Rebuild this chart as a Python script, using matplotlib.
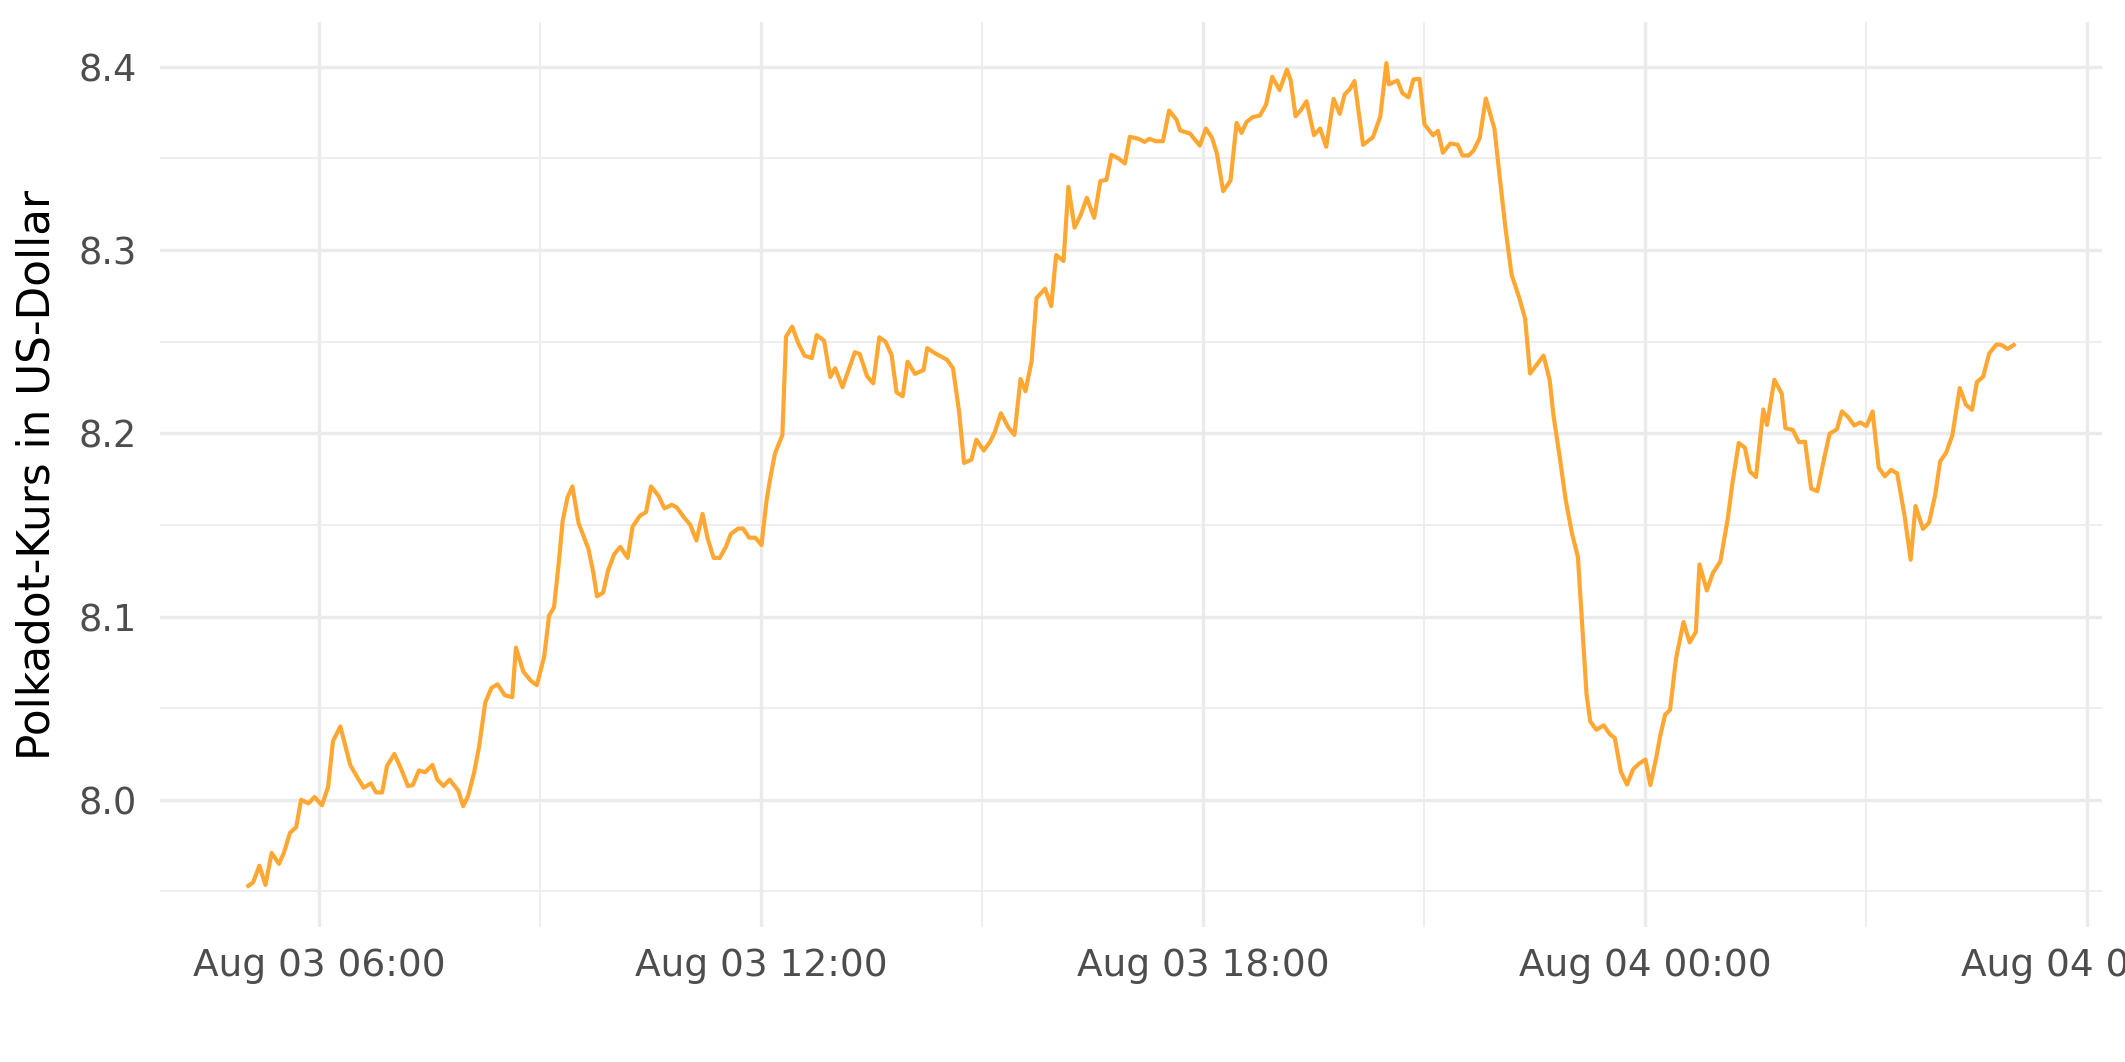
import pandas as pd
import matplotlib
matplotlib.use("Agg")
import matplotlib.pyplot as plt
import matplotlib.dates as mdates
from matplotlib.ticker import MultipleLocator

# minutes after 2022-08-03 00:00
minutes = [
    302, 306, 311, 316, 321, 327, 331, 336, 341, 345, 351, 356, 362, 367, 371, 377,
    381, 385, 391, 396, 402, 406, 411, 415, 421, 427, 432, 436, 441, 446, 452, 456,
    461, 466, 473, 477, 481, 486, 490, 495, 500, 505, 511, 517, 520, 526, 532, 537,
    543, 547, 551, 555, 558, 562, 566, 571, 575, 579, 583, 586, 591, 595, 600, 605,
    611, 615, 621, 626, 630, 636, 641, 647, 651, 657, 662, 667, 672, 676, 681, 686,
    691, 695, 701, 705, 710, 715, 720, 724, 727, 731, 737, 740, 745, 750, 755, 761,
    765, 771, 776, 780, 786, 791, 796, 800, 806, 811, 816, 821, 826, 830, 835, 839,
    845, 852, 855, 861, 871, 876, 881, 885, 891, 895, 901, 906, 910, 915, 921, 926,
    931, 935, 940, 944, 951, 956, 960, 966, 970, 975, 980, 985, 991, 996, 1001, 1005,
    1011, 1016, 1020, 1027, 1032, 1036, 1041, 1047, 1052, 1058, 1061, 1069, 1077, 1082, 1087, 1091,
    1096, 1102, 1107, 1111, 1115, 1120, 1126, 1131, 1136, 1142, 1148, 1151, 1155, 1159, 1164, 1170,
    1175, 1180, 1186, 1191, 1195, 1199, 1203, 1210, 1218, 1224, 1229, 1231, 1238, 1242, 1247, 1251,
    1256, 1260, 1267, 1271, 1275, 1281, 1287, 1291, 1296, 1300, 1305, 1310, 1317, 1321, 1326, 1331,
    1337, 1342, 1346, 1351, 1357, 1362, 1365, 1370, 1375, 1380, 1385, 1392, 1395, 1400, 1406, 1411,
    1415, 1420, 1425, 1430, 1435, 1440, 1444, 1449, 1452, 1456, 1460, 1465, 1471, 1476, 1481, 1484,
    1490, 1495, 1501, 1507, 1511, 1516, 1521, 1525, 1530, 1536, 1539, 1545, 1551, 1554, 1560, 1565,
    1570, 1575, 1580, 1586, 1590, 1596, 1600, 1605, 1610, 1615, 1620, 1625, 1630, 1635, 1640, 1645,
    1651, 1656, 1660, 1666, 1671, 1676, 1680, 1685, 1690, 1696, 1701, 1706, 1710, 1715, 1720, 1726,
    1730, 1735, 1740,
]

price = [
    7.953, 7.955, 7.964, 7.9535, 7.971, 7.965, 7.971, 7.982, 7.985, 8.000, 7.998, 8.0015, 7.997, 8.007, 8.032, 8.040,
    8.0295, 8.019, 8.012, 8.0066, 8.009, 8.004, 8.004, 8.0185, 8.025, 8.016, 8.0075, 8.008, 8.016, 8.015, 8.019, 8.011,
    8.0075, 8.011, 8.005, 7.9965, 8.002, 8.015, 8.029, 8.053, 8.061, 8.063, 8.057, 8.056, 8.083, 8.070, 8.065, 8.0625,
    8.078, 8.1005, 8.105, 8.130, 8.152, 8.165, 8.171, 8.151, 8.144, 8.137, 8.124, 8.111, 8.113, 8.125, 8.134, 8.138,
    8.132, 8.149, 8.155, 8.157, 8.171, 8.166, 8.159, 8.161, 8.1595, 8.154, 8.150, 8.1415, 8.156, 8.143, 8.132, 8.132,
    8.138, 8.145, 8.148, 8.148, 8.143, 8.143, 8.139, 8.1626, 8.175, 8.189, 8.199, 8.2527, 8.2582, 8.2491, 8.2424, 8.241,
    8.2536, 8.2505, 8.2307, 8.2355, 8.2251, 8.2347, 8.2442, 8.2433, 8.2311, 8.2273, 8.2524, 8.25, 8.2427, 8.2224, 8.2202, 8.2391,
    8.2324, 8.2345, 8.2465, 8.2438, 8.2402, 8.2355, 8.2115, 8.1838, 8.1856, 8.1965, 8.1906, 8.1951, 8.2006, 8.2109, 8.2033, 8.1991,
    8.2296, 8.2229, 8.2393, 8.2738, 8.2789, 8.2694, 8.2973, 8.294, 8.3345, 8.3122, 8.3191, 8.3285, 8.3176, 8.3376, 8.3383, 8.352,
    8.3499, 8.3472, 8.3618, 8.3607, 8.359, 8.3607, 8.3594, 8.3594, 8.3761, 8.3712, 8.3652, 8.3636, 8.357, 8.3663, 8.3612, 8.3525,
    8.3321, 8.3379, 8.3694, 8.3639, 8.3698, 8.3725, 8.3734, 8.3794, 8.3945, 8.3873, 8.3985, 8.3927, 8.373, 8.3761, 8.3812, 8.3627,
    8.3663, 8.3563, 8.3825, 8.3743, 8.3849, 8.3876, 8.3922, 8.3574, 8.3615, 8.3728, 8.402, 8.3904, 8.3925, 8.3856, 8.3833, 8.3931,
    8.3934, 8.3686, 8.3626, 8.365, 8.3531, 8.3581, 8.3575, 8.3516, 8.3516, 8.3543, 8.3611, 8.3827, 8.3662, 8.3417, 8.3118, 8.2864,
    8.2744, 8.2625, 8.2326, 8.237, 8.2424, 8.229, 8.2101, 8.1877, 8.1638, 8.1458, 8.1324, 8.0577, 8.0428, 8.0382, 8.0406, 8.0358,
    8.0337, 8.0152, 8.0083, 8.0167, 8.0198, 8.022, 8.008, 8.0237, 8.0348, 8.0464, 8.049, 8.0774, 8.097, 8.0859, 8.0915, 8.1284,
    8.1142, 8.1239, 8.13, 8.1533, 8.1735, 8.1947, 8.1921, 8.1792, 8.1761, 8.213, 8.2045, 8.2292, 8.2217, 8.2028, 8.2018, 8.1951,
    8.1954, 8.1698, 8.1684, 8.1877, 8.1998, 8.2022, 8.2119, 8.2089, 8.2043, 8.2059, 8.2039, 8.2119, 8.1812, 8.1765, 8.18, 8.1781,
    8.1553, 8.131, 8.1603, 8.1478, 8.1512, 8.1664, 8.1846, 8.1895, 8.199, 8.2247, 8.2156, 8.2128, 8.228, 8.2308, 8.2436, 8.2485,
    8.2482, 8.246, 8.2482,
]

times = pd.Timestamp("2022-08-03") + pd.to_timedelta(minutes, unit="min")

grid_col = "#EBEBEB"
text_col = "#4D4D4D"

fig = plt.figure(figsize=(2125 / 300, 1062 / 300), dpi=300)
ax = fig.add_axes([0.0753, 0.1271, 0.9892 - 0.0753, 0.9793 - 0.1271])

ax.plot(times, price, color="#FFA733", linewidth=1.0)
ax.margins(x=0.05, y=0.05)

ax.xaxis.set_major_locator(mdates.HourLocator(byhour=[0, 6, 12, 18]))
ax.xaxis.set_minor_locator(mdates.HourLocator(byhour=[3, 9, 15, 21]))
ax.xaxis.set_major_formatter(mdates.DateFormatter("%b %d %H:%M"))
ax.yaxis.set_major_locator(MultipleLocator(0.1))
ax.yaxis.set_minor_locator(MultipleLocator(0.05))
ax.yaxis.set_major_formatter(plt.FuncFormatter(lambda v, p: f"{v:.1f}"))

ax.grid(which="major", color=grid_col, linewidth=0.8)
ax.grid(which="minor", color=grid_col, linewidth=0.4)
ax.set_axisbelow(True)
for s in ax.spines.values():
    s.set_visible(False)

ax.tick_params(which="both", length=0)
ax.tick_params(axis="x", labelsize=9, labelcolor=text_col, pad=5)
ax.tick_params(axis="y", labelsize=8.8, labelcolor=text_col, pad=5.5)

ax.set_ylabel("Polkadot-Kurs in US-Dollar", fontsize=10.5, color="black", labelpad=5)

fig.savefig("out.png", dpi=300, facecolor="white")
